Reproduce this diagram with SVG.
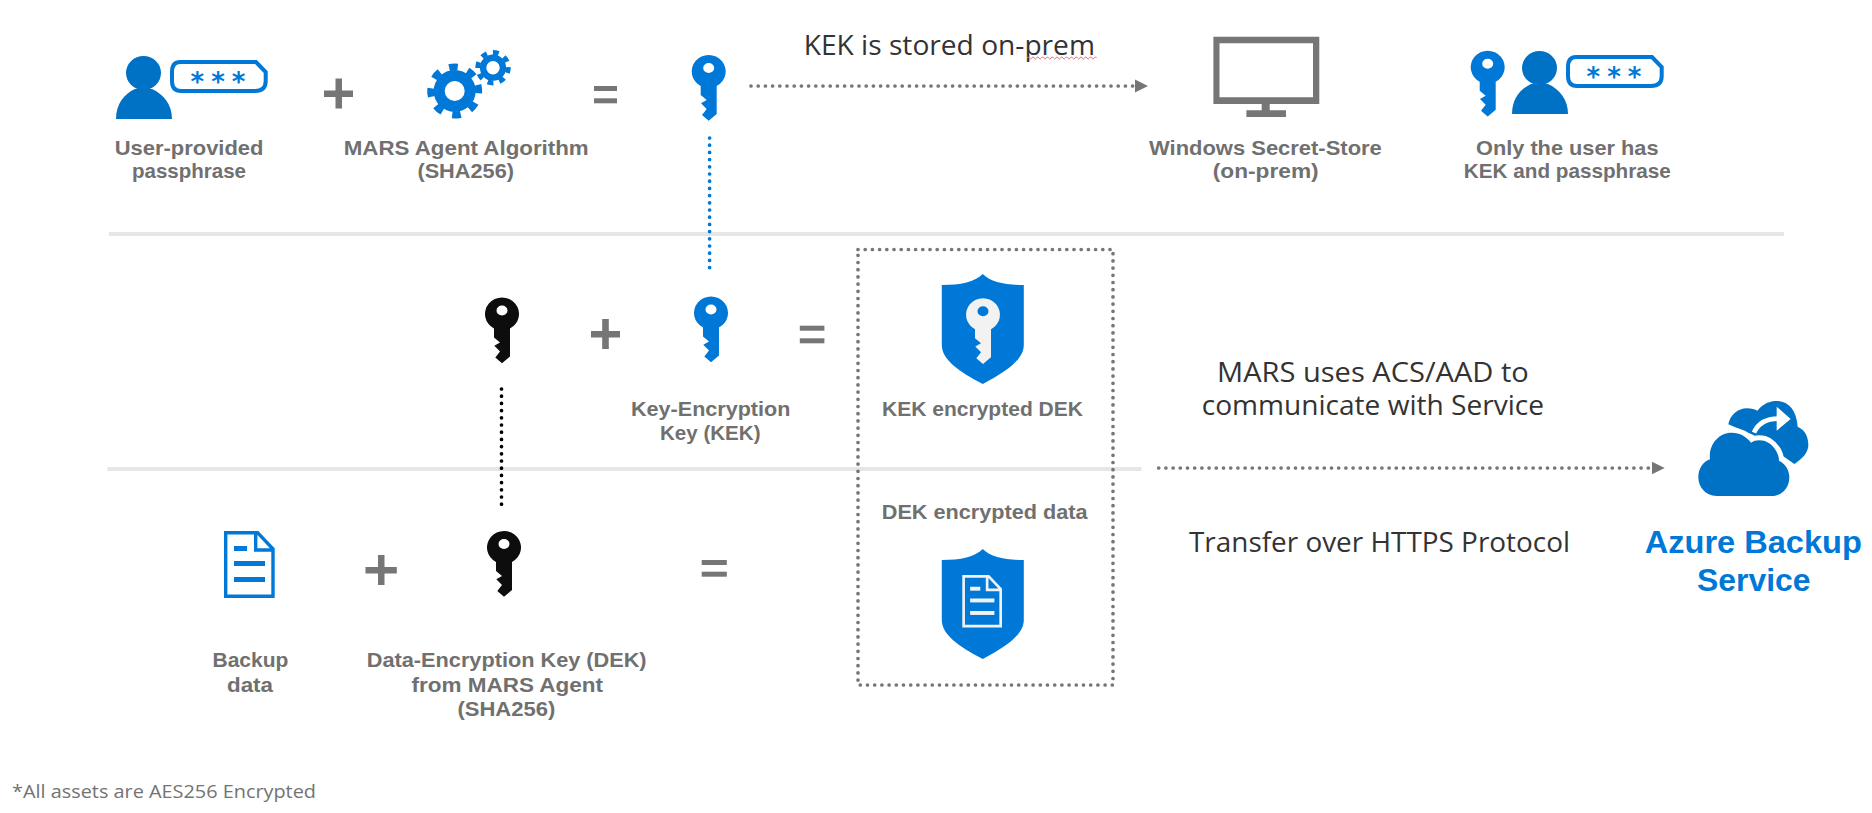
<svg xmlns="http://www.w3.org/2000/svg" xmlns:xlink="http://www.w3.org/1999/xlink" width="1872" height="813" viewBox="0 0 1872 813">
<style>
text{font-family:"Open Sans","Noto Sans","Liberation Sans",sans-serif}
.lb{font-family:"Liberation Sans",Arial,sans-serif;font-size:20.8px;font-weight:700;fill:#707070}
.nt{font-size:27px;font-weight:400;fill:#333}
.az{font-family:"Liberation Sans",Arial,sans-serif;font-size:32px;font-weight:700;fill:#0078d7}
.fn{font-size:19px;fill:#737373}
.st{font-family:"DejaVu Sans",sans-serif;font-size:26px;font-weight:700;fill:#0078d7}
.op{fill:#767676}
.dot{fill:none;stroke-width:3.7;stroke-linecap:round;stroke-dasharray:0 7.2}
.g{stroke:#767676}
.blue{color:#0078d7;fill:#0078d7}
.blk{fill:#0d0d0d}
.pale{color:#f2f2f2;fill:#f2f2f2}
.div{fill:#e6e6e6}
</style>
<defs>
<marker id="ah" markerUnits="userSpaceOnUse" markerWidth="14" markerHeight="14" refX="0" refY="7" orient="auto"><path d="M0,0.5 L13,7 L0,13.5 Z" fill="#767676"/></marker>
<path id="key" fill-rule="evenodd" d="M-8,31 A17,16.5 0 1 1 8,31 L8,59 L0,65.7 L-6.7,60 L-2,54 L-7.7,48.3 L-2,45 L-8,40 Z M0,8 A5.5,5 0 1 0 0,18 A5.5,5 0 1 0 0,8 Z"/>
<path id="shield" d="M0,0 C-8,8 -22,11 -41,11 V71 C-41,85 -25,97 0,110 C25,97 41,85 41,71 V11 C22,11 8,8 0,0 Z" fill="#0078d7"/>
<g id="doc">
<path d="M1.7,1.7 H33.6 L49,18 V65.3 H1.7 Z M31.7,1.7 V19 H49" fill="none" stroke="currentColor" stroke-width="3.4"/>
<rect x="10" y="15" width="13" height="5"/><rect x="10" y="30" width="31" height="5"/><rect x="10" y="46" width="31" height="5"/>
</g>
<g id="person">
<ellipse cx="143.5" cy="73" rx="17.5" ry="17" fill="#0072c6"/>
<path d="M116,119 C116,104 124,94 135,89 H152 C163,94 172,104 172,119 Z" fill="#0072c6"/>
<path d="M180,62 H256 L265.7,72 V81 Q265.7,91 255,91 H181 Q172,91 172,81 V72 Q172,62 180,62 Z" fill="#fff" stroke="#0078d7" stroke-width="4"/>
</g>
</defs>
<rect width="1872" height="813" fill="#fff"/>

<g id="dividers">
<rect class="div" x="109" y="232" width="1675" height="4"/>
<rect class="div" x="107.5" y="467" width="1034" height="4"/>
</g>

<g id="connectors">
<path class="dot g" d="M751,86 H1135" marker-end="url(#ah)"/>
<path class="dot" stroke="#0078d7" d="M709.6,138 V273"/>
<path class="dot" stroke="#000" d="M501.5,389 V509.5"/>
<path class="dot g" d="M1158.7,468 H1651.7" marker-end="url(#ah)"/>
</g>

<g id="node-passphrase">
<use xlink:href="#person" href="#person"/>
<text class="st" x="221.5" y="91" text-anchor="middle" letter-spacing="7">***</text>
<text class="lb" x="114.7" y="155" textLength="148.8" lengthAdjust="spacingAndGlyphs">User-provided</text>
<text class="lb" x="132" y="178.3" textLength="114" lengthAdjust="spacingAndGlyphs">passphrase</text>
</g>
<g id="op-plus-1"><path class="op" d="M335.5,78.5 H342 V90.5 H353 V97 H342 V108.5 H335.5 V97 H324 V90.5 H335.5 Z"/></g>
<g id="node-algorithm">
<g fill="none" stroke="#0078d7">
<circle cx="454.7" cy="91" r="15.5" stroke-width="11"/>
<circle cx="454.7" cy="91" r="24" stroke-width="7" stroke-dasharray="8.5 10.35" transform="rotate(-15 454.7 91)"/>
<circle cx="493" cy="67.7" r="9.9" stroke-width="6.4"/>
<circle cx="493" cy="67.7" r="15.2" stroke-width="5" stroke-dasharray="5.8 6.14" transform="rotate(-2 493 67.7)"/>
</g>
<text class="lb" x="343.7" y="155" textLength="245" lengthAdjust="spacingAndGlyphs">MARS Agent Algorithm</text>
<text class="lb" x="417.4" y="178" textLength="96.6" lengthAdjust="spacingAndGlyphs">(SHA256)</text>
</g>
<g id="op-eq-1"><rect class="op" x="594" y="86" width="23" height="5"/><rect class="op" x="594" y="98.3" width="23" height="5"/></g>
<g id="node-kek-top"><use href="#key" class="blue" x="708.7" y="55"/></g>

<g id="label-kek-stored">
<text class="nt" x="803.7" y="55" textLength="291.3" lengthAdjust="spacingAndGlyphs">KEK is stored on-prem</text>
<path fill="none" stroke="#e2707a" stroke-width="1" d="M1027,58 q1.2,-2.4 2.4,0 t2.4,0 t2.4,0 t2.4,0 t2.4,0 t2.4,0 t2.4,0 t2.4,0 t2.4,0 t2.4,0 t2.4,0 t2.4,0 t2.4,0 t2.4,0 t2.4,0 t2.4,0 t2.4,0 t2.4,0 t2.4,0 t2.4,0 t2.4,0 t2.4,0 t2.4,0 t2.4,0 t2.4,0 t2.4,0 t2.4,0 t2.4,0 t2.4,0"/>
</g>

<g id="node-secret-store">
<path fill="#767676" fill-rule="evenodd" d="M1213.4,36.7 H1319.3 V104 H1269.7 V110.3 H1286 V117 H1246.4 V110.3 H1261.7 V104 H1213.4 Z M1219.5,43.3 V97.3 H1313 V43.3 Z"/>
<text class="lb" x="1149" y="154.7" textLength="232.8" lengthAdjust="spacingAndGlyphs">Windows Secret-Store</text>
<text class="lb" x="1212.7" y="178" textLength="106" lengthAdjust="spacingAndGlyphs">(on-prem)</text>
</g>

<g id="node-user-kek">
<use href="#key" class="blue" x="1487.7" y="50.7"/>
<use href="#person" transform="translate(1396,-5)"/>
<text class="st" x="1617.5" y="86" text-anchor="middle" letter-spacing="7">***</text>
<text class="lb" x="1476" y="154.7" textLength="182.5" lengthAdjust="spacingAndGlyphs">Only the user has</text>
<text class="lb" x="1463.8" y="178" textLength="207" lengthAdjust="spacingAndGlyphs">KEK and passphrase</text>
</g>

<g id="node-dek-upper"><use href="#key" class="blk" x="502" y="297.5"/></g>
<g id="op-plus-2"><path class="op" d="M602.2,319 H608.8 V331 H620 V337.5 H608.8 V349 H602.2 V337.5 H591 V331 H602.2 Z"/></g>
<g id="node-kek">
<use href="#key" class="blue" x="711" y="296.5"/>
<text class="lb" x="631" y="416" textLength="159.4" lengthAdjust="spacingAndGlyphs">Key-Encryption</text>
<text class="lb" x="660" y="440" textLength="100.5" lengthAdjust="spacingAndGlyphs">Key (KEK)</text>
</g>
<g id="op-eq-2"><rect class="op" x="799.8" y="325.7" width="24.6" height="5"/><rect class="op" x="799.8" y="338.3" width="24.6" height="5"/></g>

<g id="node-encrypted-box">
<rect class="dot g" x="858" y="249.5" width="255" height="435.5"/>
<use href="#shield" x="982.8" y="274"/>
<use href="#key" class="pale" x="983" y="298.3"/>
<text class="lb" x="882" y="416" textLength="201" lengthAdjust="spacingAndGlyphs">KEK encrypted DEK</text>
<text class="lb" x="881.8" y="519" textLength="205.7" lengthAdjust="spacingAndGlyphs">DEK encrypted data</text>
<use href="#shield" x="982.8" y="549"/>
<use href="#doc" class="pale" transform="translate(962.3,575) scale(.783)"/>
</g>

<g id="node-backup-data">
<use href="#doc" class="blue" x="224" y="531"/>
<text class="lb" x="212.5" y="667.3" textLength="75.9" lengthAdjust="spacingAndGlyphs">Backup</text>
<text class="lb" x="227" y="691.7" textLength="46" lengthAdjust="spacingAndGlyphs">data</text>
</g>
<g id="op-plus-3"><path class="op" d="M378,555 H384.5 V567 H396.8 V573.5 H384.5 V585 H378 V573.5 H365.5 V567 H378 Z"/></g>
<g id="node-dek">
<use href="#key" class="blk" x="504" y="531"/>
<text class="lb" x="366.8" y="667" textLength="279.8" lengthAdjust="spacingAndGlyphs">Data-Encryption Key (DEK)</text>
<text class="lb" x="411.5" y="691.7" textLength="191.5" lengthAdjust="spacingAndGlyphs">from MARS Agent</text>
<text class="lb" x="457.4" y="715.7" textLength="98" lengthAdjust="spacingAndGlyphs">(SHA256)</text>
</g>
<g id="op-eq-3"><rect class="op" x="701.7" y="560" width="25.1" height="5"/><rect class="op" x="701.7" y="571.7" width="25.1" height="5"/></g>

<g id="labels-transfer">
<text class="nt" x="1217" y="381.7" textLength="311.8" lengthAdjust="spacingAndGlyphs">MARS uses ACS/AAD to</text>
<text class="nt" x="1201.7" y="415" textLength="342.3" lengthAdjust="spacingAndGlyphs">communicate with Service</text>
<text class="nt" x="1189" y="551.7" textLength="381" lengthAdjust="spacingAndGlyphs">Transfer over HTTPS Protocol</text>
</g>

<g id="node-azure">
<g transform="translate(1680,390) scale(.33333)">
<path fill="#0072c6" d="M145,103 C150,75 175,55 200,55 C215,55 225,58 232,62 C250,40 270,33 290,33 C325,33 350,60 353,110 C375,120 385,140 385,165 C385,185 370,205 343,222 L220,135 Z"/>
<path fill="none" stroke="#fff" stroke-width="14" d="M222,128 C235,98 260,86 295,86"/>
<path fill="#fff" d="M290,50 L332,87 L290,122 Z"/>
<path fill="#0072c6" stroke="#fff" stroke-width="30" paint-order="stroke" d="M110,318 C75,318 55,290 55,262 C55,235 70,215 90,208 C85,165 115,128 155,128 C180,128 200,140 213,158 C225,148 250,148 265,158 C285,170 298,195 297,212 C315,220 328,240 328,262 C328,295 305,318 275,318 Z"/>
</g>
<text class="az" x="1644.7" y="553.3" textLength="217.2" lengthAdjust="spacingAndGlyphs">Azure Backup</text>
<text class="az" x="1697" y="590.7" textLength="113.6" lengthAdjust="spacingAndGlyphs">Service</text>
</g>

<g id="footnote"><text class="fn" x="12" y="797.7" textLength="304" lengthAdjust="spacingAndGlyphs">*All assets are AES256 Encrypted</text></g>
</svg>
